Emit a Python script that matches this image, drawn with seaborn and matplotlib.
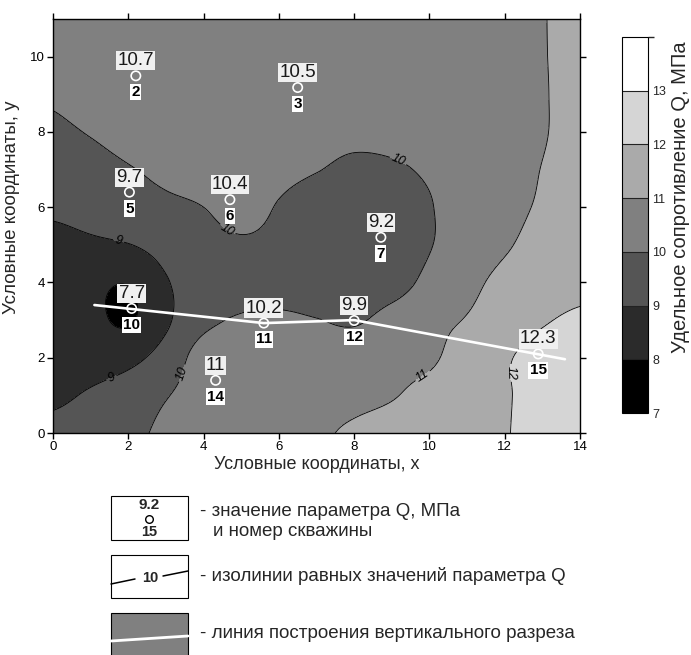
import numpy as np
import pandas as pd
import matplotlib
matplotlib.use("Agg")
import matplotlib.pyplot as plt
from matplotlib.colors import ListedColormap, BoundaryNorm
from matplotlib.patches import Rectangle
import seaborn as sns

# --- coarse grid of the resistance field Q (MPa), rows from y=0 upward ---
grid_x = list(range(0, 15))
grid_y = list(range(0, 12))
grid_q = [
    [9.20, 9.45, 9.80, 10.15, 10.40, 10.55, 10.70, 10.90, 11.10, 11.30, 11.50, 11.70, 11.95, 12.30, 12.50],  # y=0
    [8.85, 9.10, 9.45, 9.95, 10.35, 10.50, 10.60, 10.70, 10.80, 10.95, 11.25, 11.55, 11.92, 12.30, 12.50],  # y=1
    [8.60, 8.60, 8.75, 9.40, 10.40, 10.55, 10.55, 10.55, 10.60, 10.75, 10.88, 11.40, 11.90, 12.30, 12.45],  # y=2
    [8.55, 8.25, 7.90, 8.85, 9.75, 10.10, 10.15, 10.03, 9.88, 10.35, 10.75, 11.05, 11.50, 11.92, 12.12],   # y=3
    [8.50, 8.25, 8.05, 8.93, 9.40, 9.60, 9.65, 9.50, 9.35, 9.60, 10.25, 10.75, 11.25, 11.60, 11.80],      # y=4
    [8.75, 8.85, 8.97, 9.35, 9.70, 9.90, 9.80, 9.50, 9.25, 9.40, 9.95, 10.45, 10.90, 11.30, 11.55],       # y=5
    [9.15, 9.35, 9.65, 9.85, 10.00, 10.25, 9.95, 9.60, 9.40, 9.55, 9.95, 10.40, 10.75, 11.10, 11.40],     # y=6
    [9.50, 9.70, 9.95, 10.15, 10.25, 10.30, 10.20, 10.03, 9.85, 9.90, 10.10, 10.35, 10.65, 11.02, 11.25], # y=7
    [9.85, 10.05, 10.30, 10.40, 10.40, 10.35, 10.30, 10.20, 10.15, 10.20, 10.30, 10.50, 10.70, 10.95, 11.25],  # y=8
    [10.10, 10.35, 10.60, 10.60, 10.50, 10.45, 10.45, 10.40, 10.35, 10.40, 10.50, 10.60, 10.75, 10.95, 11.25],  # y=9
    [10.30, 10.50, 10.65, 10.65, 10.60, 10.55, 10.50, 10.50, 10.55, 10.60, 10.65, 10.72, 10.82, 10.97, 11.20],  # y=10
    [10.40, 10.50, 10.60, 10.60, 10.60, 10.60, 10.60, 10.60, 10.60, 10.65, 10.70, 10.75, 10.85, 10.98, 11.15],  # y=11
]

# --- wells: number, coordinates and measured Q ---
well_no = [2, 3, 5, 6, 7, 10, 11, 12, 14, 15]
well_x = [2.2, 6.5, 2.03, 4.7, 8.71, 2.09, 5.6, 8.0, 4.32, 12.89]
well_y = [9.49, 9.18, 6.4, 6.2, 5.2, 3.31, 2.92, 2.99, 1.4, 2.1]
well_q = ["10.7", "10.5", "9.7", "10.4", "9.2", "7.7", "10.2", "9.9", "11", "12.3"]

# --- line of the vertical cross-section ---
section_x = [1.1, 5.6, 8.0, 13.6]
section_y = [3.4, 2.92, 3.0, 1.96]

# --- contour levels and shading ---
levels = [7, 8, 9, 10, 11, 12, 13, 14]
labelled_levels = [9, 10, 11, 12]
shades = ["#000000", "#2b2b2b", "#555555", "#808080", "#aaaaaa", "#d5d5d5", "#ffffff"]
cbar_ticks = [7, 8, 9, 10, 11, 12, 13]


def catmull_rom_weights(nodes, fine):
    """Weight matrix mapping values on uniform nodes to a fine axis (Catmull-Rom)."""
    nodes = np.asarray(nodes, float)
    n = len(nodes)
    step = nodes[1] - nodes[0]
    w = np.zeros((len(fine), n))
    for r, t in enumerate(fine):
        s = (t - nodes[0]) / step
        i = min(int(np.floor(s)), n - 2)
        u = s - i
        coef = [(-u**3 + 2 * u**2 - u) / 2, (3 * u**3 - 5 * u**2 + 2) / 2,
                (-3 * u**3 + 4 * u**2 + u) / 2, (u**3 - u**2) / 2]
        for k, c in zip(range(i - 1, i + 3), coef):
            w[r, min(max(k, 0), n - 1)] += c
    return w


sns.set_theme(style="ticks")
plt.rcParams["font.family"] = ["Liberation Sans", "DejaVu Sans"]

fig = plt.figure(figsize=(6.91, 6.55), dpi=100)
ax = fig.add_axes([53 / 691, 1 - 433 / 655, 527 / 691, 414 / 655])
cax = fig.add_axes([622 / 691, 1 - 413 / 655, 26 / 691, 376 / 655])

# smooth surface from the coarse grid
fx = np.linspace(0, 14, 421)
fy = np.linspace(0, 11, 331)
FQ = catmull_rom_weights(grid_y, fy) @ np.array(grid_q, float) @ catmull_rom_weights(grid_x, fx).T
FX, FY = np.meshgrid(fx, fy)

cmap = ListedColormap(shades)
norm = BoundaryNorm(levels, cmap.N)
cf = ax.contourf(FX, FY, FQ, levels=levels, cmap=cmap, norm=norm)
ax.contour(FX, FY, FQ, levels=[8], colors="black", linewidths=0.6)
cs = ax.contour(FX, FY, FQ, levels=labelled_levels, colors="black", linewidths=0.6)
label_pos = [(1.78, 5.3), (1.6, 1.36), (9.2, 7.3), (4.6, 5.35), (3.4, 1.6), (9.8, 1.55), (12.2, 1.6)]
for t in ax.clabel(cs, manual=label_pos, inline=True, fontsize=9, fmt="%d", inline_spacing=2):
    t.set_fontstyle("italic")

# cross-section line
sec = pd.DataFrame({"x": section_x, "y": section_y})
sns.lineplot(data=sec, x="x", y="y", sort=False, color="white", linewidth=1.9, ax=ax,
             legend=False, zorder=4)

# wells
wells = pd.DataFrame({"no": well_no, "x": well_x, "y": well_y, "q": well_q})
sns.scatterplot(data=wells, x="x", y="y", marker="o", s=45, facecolor="none",
                edgecolor="white", linewidth=1.2, ax=ax, zorder=6, legend=False)
for _, r in wells.iterrows():
    ax.annotate(r["q"], (r["x"], r["y"]), xytext=(0, 10.8), textcoords="offset points",
                ha="center", va="center", fontsize=13.5, color="#1a1a1a", zorder=7,
                bbox=dict(boxstyle="square,pad=0.06", fc="#f0f0f0", ec="none"))
    ax.annotate(str(r["no"]), (r["x"], r["y"]), xytext=(0, -11.8), textcoords="offset points",
                ha="center", va="center", fontsize=11, fontweight="bold", color="black",
                zorder=7, bbox=dict(boxstyle="square,pad=0.08", fc="white", ec="none"))

ax.set_xlim(0, 14)
ax.set_ylim(0, 11)
ax.set_xticks(range(0, 15, 2))
ax.set_yticks(range(0, 11, 2))
ax.tick_params(direction="out", length=4, width=1, labelsize=9.5, top=True, right=True,
               colors="black", pad=2)
for sp in ax.spines.values():
    sp.set_color("black")
    sp.set_linewidth(1.0)
ax.set_xlabel("Условные координаты, x", fontsize=13, labelpad=2)
ax.set_ylabel("Условные координаты, y", fontsize=13.5)
ax.yaxis.set_label_coords(-0.062, 0.545)

cb = fig.colorbar(cf, cax=cax, ticks=cbar_ticks)
cb.outline.set_edgecolor("black")
cb.outline.set_linewidth(0.8)
cax.hlines(levels[1:-1], 0, 1, transform=cax.get_yaxis_transform(), colors="#222222",
           linewidth=0.8)
cax.tick_params(labelsize=9, length=0, pad=3)
fig.text(680 / 691, 1 - 197 / 655, "Удельное сопротивление Q, МПа", rotation=90,
         ha="center", va="center", fontsize=14.5)

# explanatory key below the map (figure pixel coordinates)
lax = fig.add_axes([0, 0, 1, 1])
lax.set_xlim(0, 691)
lax.set_ylim(655, 0)
lax.axis("off")
lax.patch.set_alpha(0)

lax.add_patch(Rectangle((111, 496), 77, 44, fc="white", ec="black", lw=0.8))
lax.text(149.5, 505, "9.2", ha="center", va="center", fontsize=11, fontweight="bold")
lax.plot([149.5], [519], marker="o", ms=5.5, mfc="none", mec="black", mew=1.0)
lax.text(149.5, 532, "15", ha="center", va="center", fontsize=10.5, fontweight="bold")

lax.add_patch(Rectangle((111, 555), 77, 43, fc="white", ec="black", lw=0.8))
lax.plot([111, 135], [584, 579], color="black", lw=1.1)
lax.text(150, 578, "10", ha="center", va="center", fontsize=10.5, fontweight="bold")
lax.plot([163, 188], [576, 571], color="black", lw=1.1)

lax.add_patch(Rectangle((111, 613), 77, 46, fc="#808080", ec="black", lw=0.8, clip_on=False))
lax.plot([111, 188], [641, 636], color="white", lw=2)

key_font = 13.5
lax.text(200, 511, "- значение параметра Q, МПа", va="center", fontsize=key_font)
lax.text(213, 531, "и номер скважины", va="center", fontsize=key_font)
lax.text(200, 576, "- изолинии равных значений параметра Q", va="center", fontsize=key_font)
lax.text(200, 633, "- линия построения вертикального разреза", va="center", fontsize=key_font)

fig.savefig("out.png", dpi=100)
